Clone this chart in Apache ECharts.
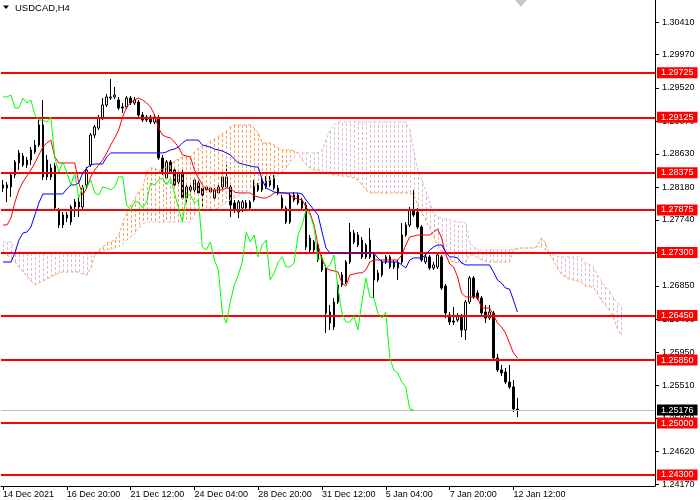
<!DOCTYPE html>
<html><head><meta charset="utf-8">
<script src="https://cdn.jsdelivr.net/npm/echarts@6/dist/echarts.min.js"></script>
<style>html,body{margin:0;padding:0;background:#fff}#c{width:700px;height:500px}</style>
</head><body><div id="c"></div>
<script>
// ---------- data ----------
const tickLabels = ['14 Dec 2021','16 Dec 20:00','21 Dec 12:00','24 Dec 04:00','28 Dec 20:00','31 Dec 12:00','5 Jan 04:00','7 Jan 20:00','12 Jan 12:00'];
const yTicks = [1.30410,1.29970,1.29520,1.29070,1.28630,1.28180,1.27740,1.27300,1.26850,1.26400,1.25950,1.25510,1.25060,1.24620,1.24170];
const levels = [1.29725,1.29125,1.28375,1.27875,1.27300,1.26450,1.25850,1.25000,1.24300];
const bid = 1.25176;
// [open, close, low, high]
const candles = [
[1.28171,1.28212,1.28117,1.28279],[1.28212,1.28171,1.27982,1.28252],[1.28185,1.28347,1.28050,1.28387],[1.28347,1.28522,1.28306,1.28549],
[1.28509,1.28644,1.28414,1.28684],[1.28603,1.28482,1.28455,1.28644],[1.28482,1.28549,1.28441,1.28590],[1.28549,1.28684,1.28482,1.28724],
[1.28657,1.28751,1.28630,1.28818],[1.28751,1.29021,1.28724,1.29129],[1.29021,1.28320,1.28279,1.29358],[1.28320,1.28549,1.28279,1.28617],
[1.28441,1.28320,1.28279,1.28495],[1.28468,1.27901,1.27874,1.28509],[1.27874,1.27672,1.27631,1.27901],[1.27672,1.27807,1.27631,1.27847],
[1.27807,1.27766,1.27712,1.27847],[1.27712,1.27915,1.27672,1.27942],[1.27915,1.27982,1.27780,1.28023],[1.27982,1.27915,1.27780,1.28036],
[1.27915,1.28171,1.27874,1.28212],[1.28212,1.28414,1.28171,1.28455],[1.28482,1.28886,1.28455,1.28913],[1.28886,1.28994,1.28845,1.29021],
[1.28980,1.29115,1.28953,1.29156],[1.29115,1.29291,1.29088,1.29385],[1.29291,1.29399,1.29264,1.29439],[1.29385,1.29399,1.29358,1.29642],
[1.29399,1.29426,1.29372,1.29534],[1.29358,1.29250,1.29223,1.29399],[1.29264,1.29250,1.29183,1.29318],[1.29264,1.29385,1.29237,1.29412],
[1.29385,1.29318,1.29291,1.29412],[1.29318,1.29358,1.29291,1.29399],[1.29331,1.29156,1.29129,1.29358],[1.29156,1.29088,1.29061,1.29196],
[1.29129,1.29088,1.29061,1.29156],[1.29129,1.29061,1.29034,1.29156],[1.29061,1.29129,1.29034,1.29169],[1.29115,1.28576,1.28549,1.29156],
[1.28576,1.28387,1.28347,1.28617],[1.28306,1.28522,1.28279,1.28549],[1.28522,1.28387,1.28360,1.28549],[1.28414,1.28212,1.28185,1.28441],
[1.28252,1.28374,1.28212,1.28401],[1.28374,1.28036,1.28009,1.28414],[1.28036,1.28185,1.27942,1.28212],[1.28144,1.28185,1.28117,1.28212],
[1.28144,1.28279,1.28117,1.28306],[1.28239,1.28104,1.28077,1.28279],[1.28171,1.28077,1.27915,1.28198],[1.28144,1.28185,1.28117,1.28212],
[1.28117,1.28171,1.28090,1.28198],[1.28036,1.28144,1.28009,1.28171],[1.28104,1.28185,1.28077,1.28212],[1.28185,1.28320,1.28158,1.28347],
[1.28185,1.28320,1.28158,1.28482],[1.28185,1.27942,1.27780,1.28212],[1.27969,1.27874,1.27834,1.28009],[1.27847,1.27982,1.27766,1.28009],
[1.27901,1.27982,1.27847,1.28009],[1.27969,1.27901,1.27861,1.28009],[1.27901,1.27982,1.27874,1.28009],[1.28009,1.28239,1.27982,1.28279],
[1.28144,1.28212,1.28117,1.28239],[1.28144,1.28279,1.28117,1.28320],[1.28185,1.28306,1.28158,1.28333],[1.28306,1.28212,1.28185,1.28333],
[1.28171,1.28306,1.28144,1.28347],[1.28171,1.28104,1.28077,1.28212],[1.28036,1.27901,1.27874,1.28077],[1.27901,1.27712,1.27685,1.27928],
[1.27712,1.28077,1.27685,1.28104],[1.28009,1.28077,1.27982,1.28117],[1.28077,1.27969,1.27942,1.28104],[1.27901,1.28009,1.27874,1.28036],
[1.27942,1.27375,1.27335,1.27982],[1.27496,1.27335,1.27308,1.27537],[1.27335,1.27442,1.27295,1.27469],[1.27402,1.27200,1.27173,1.27429],
[1.27227,1.27065,1.27038,1.27268],[1.27092,1.26485,1.26215,1.27133],[1.26498,1.26350,1.26255,1.26593],[1.26296,1.26633,1.26255,1.26687],
[1.26633,1.26863,1.26606,1.26903],[1.26863,1.26998,1.26836,1.27038],[1.26903,1.27173,1.26876,1.27200],[1.27173,1.27577,1.27146,1.27699],
[1.27564,1.27442,1.27415,1.27604],[1.27402,1.27537,1.27375,1.27577],[1.27469,1.27241,1.27214,1.27510],[1.27241,1.27402,1.27214,1.27429],
[1.27241,1.27469,1.27214,1.27631],[1.27268,1.26930,1.26687,1.27308],[1.26930,1.27025,1.26903,1.27065],[1.26998,1.27173,1.26971,1.27200],
[1.27173,1.27241,1.27146,1.27268],[1.27241,1.27106,1.27079,1.27268],[1.27173,1.27106,1.27079,1.27200],[1.27092,1.27160,1.26930,1.27200],
[1.27173,1.27537,1.27146,1.27699],[1.27537,1.27672,1.27510,1.27712],[1.27672,1.27874,1.27645,1.27915],[1.27874,1.27807,1.27780,1.28144],
[1.27847,1.27645,1.27618,1.27901],[1.27645,1.27200,1.27173,1.27672],[1.27173,1.27241,1.27146,1.27281],[1.27241,1.27092,1.27065,1.27268],
[1.27092,1.27133,1.27065,1.27173],[1.27106,1.27268,1.27079,1.27308],[1.27241,1.26822,1.26795,1.27268],[1.26849,1.26485,1.26417,1.26876],
[1.26458,1.26363,1.26323,1.26498],[1.26377,1.26363,1.26323,1.26566],[1.26390,1.26444,1.26363,1.26485],[1.26444,1.26255,1.26161,1.26471],
[1.26255,1.26633,1.26120,1.26660],[1.26633,1.26957,1.26606,1.26984],[1.26957,1.26701,1.26674,1.26984],[1.26755,1.26687,1.26660,1.26795],
[1.26687,1.26485,1.26458,1.26714],[1.26498,1.26417,1.26350,1.26593],[1.26417,1.26498,1.26390,1.26593],[1.26485,1.25878,1.25851,1.26512],
[1.25878,1.25716,1.25689,1.25932],[1.25716,1.25676,1.25635,1.25784],[1.25689,1.25554,1.25527,1.25743],[1.25554,1.25487,1.25460,1.25784],
[1.25487,1.25190,1.25149,1.25581],[1.25190,1.25176,1.25082,1.25338]
];
const tenkan = [
1.27672,1.27672,1.27766,1.27982,1.28144,1.28252,1.28333,1.28414,1.28509,1.28617,
1.28724,1.28778,1.28818,1.28590,1.28509,1.28509,1.28509,1.28509,1.28509,1.28239,
1.28077,1.28171,1.28320,1.28414,1.28482,1.28549,1.28644,1.28751,1.28845,1.28953,
1.29129,1.29264,1.29318,1.29358,1.29385,1.29358,1.29318,1.29264,1.29156,1.28980,
1.28886,1.28859,1.28845,1.28791,1.28724,1.28617,1.28603,1.28590,1.28414,1.28306,
1.28212,1.28158,1.28144,1.28144,1.28144,1.28144,1.28171,1.28171,1.28117,1.28104,
1.28104,1.28104,1.28104,1.28063,1.28050,1.28036,1.28036,1.28063,1.28104,1.28117,
1.28104,1.28104,1.28077,1.28036,1.28023,1.28009,1.27915,1.27834,1.27672,1.27402,
1.27200,1.27092,1.27065,1.27052,1.27038,1.26890,1.26849,1.26998,1.27011,1.27025,
1.27025,1.27065,1.27173,1.27200,1.27200,1.27200,1.27200,1.27200,1.27200,1.27200,
1.27268,1.27402,1.27510,1.27523,1.27537,1.27537,1.27537,1.27537,1.27577,1.27618,
1.27496,1.27281,1.27146,1.27106,1.26971,1.26755,1.26701,1.26701,1.26701,1.26701,
1.26552,1.26552,1.26552,1.26458,1.26350,1.26296,1.26215,1.26080,1.25946,1.25878];
const kijun = [
1.27173,1.27173,1.27173,1.27295,1.27469,1.27564,1.27577,1.27645,1.27807,1.27969,
1.28090,1.28090,1.28090,1.28090,1.28090,1.28090,1.28158,1.28212,1.28212,1.28239,
1.28374,1.28441,1.28482,1.28495,1.28495,1.28495,1.28590,1.28644,1.28644,1.28644,
1.28644,1.28644,1.28644,1.28644,1.28644,1.28644,1.28644,1.28644,1.28644,1.28644,
1.28644,1.28657,1.28684,1.28697,1.28724,1.28778,1.28818,1.28818,1.28818,1.28818,
1.28751,1.28737,1.28724,1.28697,1.28684,1.28671,1.28644,1.28617,1.28563,1.28509,
1.28495,1.28482,1.28468,1.28455,1.28455,1.28279,1.28171,1.28144,1.28117,1.28104,
1.28104,1.28104,1.28104,1.28104,1.28104,1.28090,1.28009,1.27942,1.27874,1.27807,
1.27577,1.27361,1.27295,1.27295,1.27295,1.27295,1.27295,1.27295,1.27295,1.27295,
1.27295,1.27295,1.27295,1.27295,1.27227,1.27173,1.27173,1.27173,1.27173,1.27173,
1.27133,1.27092,1.27200,1.27227,1.27227,1.27227,1.27268,1.27335,1.27375,1.27402,
1.27402,1.27308,1.27241,1.27241,1.27227,1.27160,1.27133,1.27133,1.27133,1.27133,
1.27133,1.27133,1.27133,1.27038,1.26930,1.26890,1.26822,1.26809,1.26660,1.26498];
const chikou = [
1.29399,1.29399,1.29426,1.29250,1.29250,1.29385,1.29318,1.29358,1.29156,1.29088,
1.29088,1.29061,1.29129,1.28576,1.28387,1.28522,1.28387,1.28212,1.28374,1.28036,
1.28185,1.28185,1.28279,1.28104,1.28077,1.28185,1.28171,1.28144,1.28185,1.28320,
1.28320,1.27942,1.27874,1.27982,1.27982,1.27901,1.27982,1.28239,1.28212,1.28279,
1.28306,1.28212,1.28306,1.28104,1.27901,1.27712,1.28077,1.28077,1.27969,1.28009,
1.27375,1.27335,1.27442,1.27200,1.27065,1.26485,1.26350,1.26633,1.26863,1.26998,
1.27173,1.27577,1.27442,1.27537,1.27241,1.27402,1.27469,1.26930,1.27025,1.27173,
1.27241,1.27106,1.27106,1.27160,1.27537,1.27672,1.27874,1.27807,1.27645,1.27200,
1.27241,1.27092,1.27133,1.27268,1.26822,1.26485,1.26363,1.26363,1.26444,1.26255,
1.26633,1.26957,1.26701,1.26687,1.26485,1.26417,1.26498,1.25878,1.25716,1.25676,
1.25554,1.25487,1.25190,1.25176];
const spanA = [
1.27308,1.27268,1.27227,1.27173,1.27106,1.27038,1.26984,1.26917,1.26863,1.26890,
1.26917,1.26944,1.26971,1.26998,1.27025,1.27038,1.27038,1.27038,1.27038,1.27038,
1.27011,1.26998,1.27092,1.27268,1.27335,1.27375,1.27429,1.27442,1.27469,1.27537,
1.27699,1.27834,1.27942,1.28023,1.28117,1.28171,1.28387,1.28441,1.28441,1.28401,
1.28428,1.28455,1.28468,1.28536,1.28563,1.28590,1.28590,1.28590,1.28657,1.28711,
1.28737,1.28751,1.28805,1.28832,1.28859,1.28899,1.28940,1.28994,1.29021,1.29021,
1.29021,1.29021,1.29021,1.28980,1.28913,1.28778,1.28778,1.28778,1.28751,1.28711,
1.28684,1.28684,1.28684,1.28671,1.28644,1.28549,1.28482,1.28441,1.28414,1.28414,
1.28387,1.28374,1.28360,1.28347,1.28347,1.28333,1.28333,1.28320,1.28306,1.28279,
1.28212,1.28144,1.28104,1.28104,1.28104,1.28104,1.28104,1.28104,1.28104,1.28104,
1.28104,1.28104,1.28104,1.28077,1.27942,1.27847,1.27739,1.27631,1.27510,1.27402,
1.27308,1.27241,1.27200,1.27173,1.27160,1.27160,1.27173,1.27268,1.27268,1.27227,
1.27200,1.27187,1.27173,1.27173,1.27173,1.27173,1.27173,1.27173,1.27335,1.27348,
1.27362,1.27362,1.27362,1.27362,1.27389,1.27496,1.27429,1.27281,1.27200,1.27092,
1.27011,1.26971,1.26944,1.26930,1.26917,1.26903,1.26849,1.26836,1.26836,1.26755,
1.26660,1.26593,1.26525,1.26444,1.26282,1.26188];
const spanB = [
1.27442,1.27442,1.27442,1.27375,1.27308,1.27308,1.27308,1.27308,1.27308,1.27308,
1.27308,1.27308,1.27308,1.27308,1.27308,1.27308,1.27308,1.27308,1.27308,1.27308,
1.27308,1.27308,1.27308,1.27308,1.27308,1.27322,1.27335,1.27348,1.27362,1.27375,
1.27415,1.27469,1.27510,1.27550,1.27631,1.27685,1.27712,1.27712,1.27712,1.27712,
1.27712,1.27712,1.27712,1.27712,1.27712,1.27712,1.27712,1.27712,1.27807,1.27874,
1.27874,1.27874,1.27874,1.27874,1.27901,1.27942,1.27982,1.28009,1.28036,1.28063,
1.28104,1.28117,1.28171,1.28198,1.28225,1.28239,1.28252,1.28279,1.28306,1.28347,
1.28387,1.28441,1.28522,1.28590,1.28644,1.28644,1.28644,1.28644,1.28644,1.28644,
1.28684,1.28818,1.28953,1.29021,1.29061,1.29061,1.29061,1.29061,1.29061,1.29061,
1.29061,1.29061,1.29061,1.29061,1.29061,1.29061,1.29061,1.29061,1.29061,1.29061,
1.29061,1.29061,1.28953,1.28684,1.28414,1.28279,1.28144,1.27969,1.27834,1.27780,
1.27766,1.27753,1.27739,1.27726,1.27712,1.27712,1.27699,1.27429,1.27375,1.27348,
1.27335,1.27335,1.27335,1.27335,1.27335,1.27335,1.27335,1.27335,1.27348,1.27362,
1.27362,1.27362,1.27362,1.27362,1.27375,1.27375,1.27335,1.27295,1.27268,1.27254,
1.27241,1.27241,1.27241,1.27241,1.27241,1.27241,1.27160,1.27146,1.27106,1.27011,
1.26917,1.26849,1.26795,1.26687,1.26620,1.26593];

// ---------- chart ----------
const FONT = '"Liberation Sans", Arial, sans-serif';
const SLOTS = 164;
const cats = Array.from({length: SLOTS}, (_, i) => String(i));
const labelStep = 16;
const showTick = (i) => i % labelStep === 0 && i / labelStep < tickLabels.length;
const cloud = spanA.map((a, i) => [i, a, spanB[i]]);

const chart = echarts.init(document.getElementById('c'), null, {renderer: 'canvas'});
const levelLabel = (bg) => ({
  show: true, position: 'end', distance: 2, formatter: p => Number(p.value).toFixed(5),
  backgroundColor: bg, color: '#fff', fontSize: 9, fontFamily: FONT,
  padding: [1, 4, 1, 4], lineHeight: 9
});
chart.setOption({
  animation: false,
  backgroundColor: '#ffffff',
  textStyle: {fontFamily: FONT},
  title: {text: 'USDCAD,H4', left: 15, top: 3, padding: 0,
    textStyle: {fontSize: 9.5, fontWeight: 'normal', color: '#000', fontFamily: FONT}},
  graphic: [
    {type: 'polygon', shape: {points: [[3, 5.5], [9, 5.5], [6, 9]]}, style: {fill: '#000'}},
    {type: 'polygon', shape: {points: [[515, 0], [527, 0], [521, 7]]}, style: {fill: '#c8c8c8'}}
  ],
  grid: {left: -2, right: 45, top: 0, bottom: 14},
  xAxis: {
    type: 'category', data: cats, boundaryGap: true,
    axisLine: {show: true, lineStyle: {color: '#000', width: 1}},
    axisTick: {show: true, alignWithLabel: true, interval: showTick, length: 4, lineStyle: {color: '#000'}},
    axisLabel: {interval: showTick, formatter: (v, i) => tickLabels[i / labelStep], align: 'left',
      color: '#000', fontSize: 9, margin: 4, fontFamily: FONT},
    splitLine: {show: false}
  },
  yAxis: {
    type: 'value', position: 'right', min: 1.24151, max: 1.30707,
    axisLine: {show: true, lineStyle: {color: '#000', width: 1}},
    axisTick: {show: true, customValues: yTicks, length: 4, lineStyle: {color: '#000'}},
    axisLabel: {customValues: yTicks, formatter: v => v.toFixed(5), color: '#000', fontSize: 9, margin: 7, fontFamily: FONT},
    splitLine: {show: false}
  },
  series: [
    {type: 'candlestick', data: candles, barWidth: 2, z: 2,
      itemStyle: {color: '#ffffff', color0: '#000000', borderColor: '#000000', borderColor0: '#000000', borderWidth: 1}},
    {type: 'custom', data: cloud, z: 3, silent: true, encode: {x: 0, y: [1, 2]},
      renderItem: function (params, api) {
        const i = api.value(0), a = api.value(1), b = api.value(2);
        const p1 = api.coord([i, a]), p2 = api.coord([i, b]);
        const x = Math.round(p1[0]) + 0.5;
        return {type: 'line', shape: {x1: x, y1: p1[1], x2: x, y2: p2[1]},
          style: {stroke: a >= b ? '#F4A460' : '#D8BFD8', lineWidth: 1, lineDash: [3, 2]}};
      }},
    {type: 'line', data: spanA, symbol: 'none', z: 4, silent: true, lineStyle: {color: '#F4A460', width: 1, type: [3, 2]}},
    {type: 'line', data: spanB, symbol: 'none', z: 4, silent: true, lineStyle: {color: '#D8BFD8', width: 1, type: [3, 2]}},
    {type: 'line', data: tenkan, symbol: 'none', z: 5, silent: true, lineStyle: {color: '#ff0000', width: 1}},
    {type: 'line', data: kijun, symbol: 'none', z: 5, silent: true, lineStyle: {color: '#0000ff', width: 1}},
    {type: 'line', data: chikou, symbol: 'none', z: 5, silent: true, lineStyle: {color: '#00ff00', width: 1}},
    {type: 'line', data: [], z: 6, silent: true,
      markLine: {silent: true, symbol: ['none', 'none'], animation: false, precision: 5,
        data: [{yAxis: bid, lineStyle: {color: '#c0c0c0', width: 1, type: 'solid'}, label: levelLabel('#000000')}]
          .concat(levels.map(v => ({yAxis: v, lineStyle: {color: '#ff0000', width: 2, type: 'solid'}, label: levelLabel('#ff0000')})))
      }}
  ]
});
</script></body></html>
